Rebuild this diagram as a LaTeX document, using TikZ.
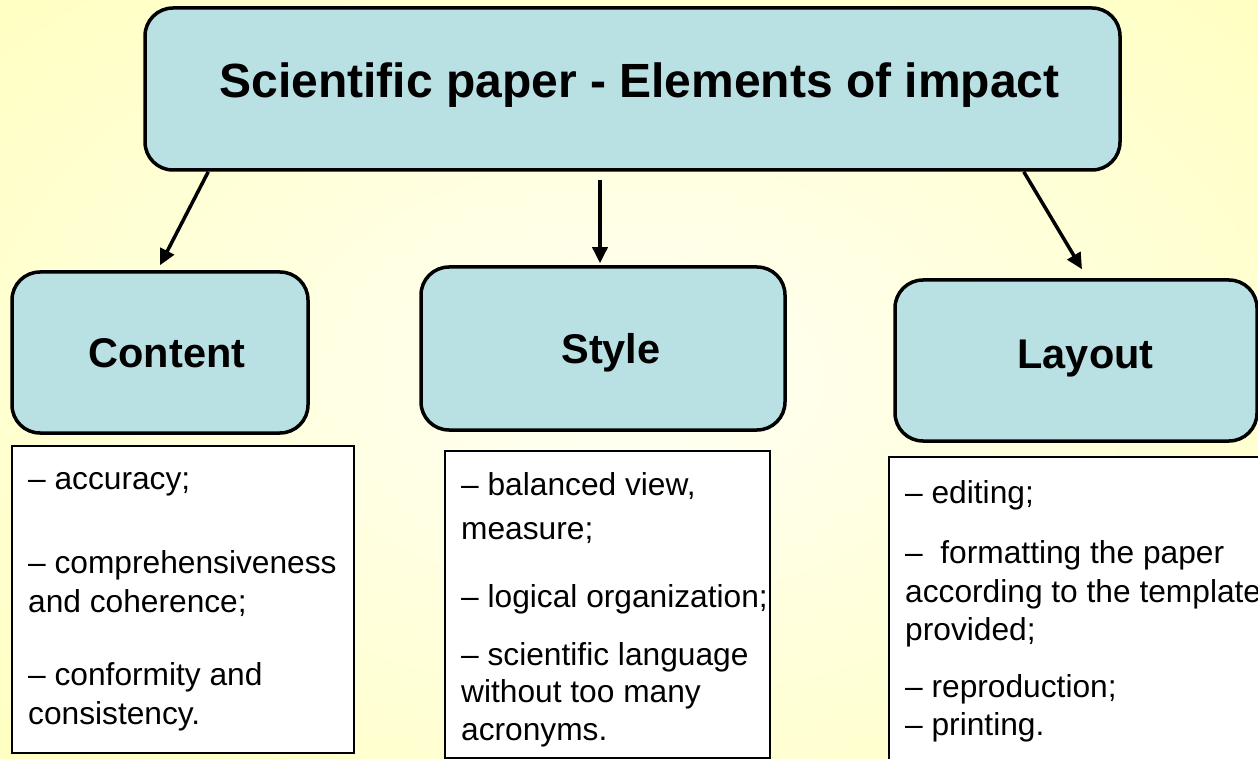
\documentclass[tikz,border=0pt]{standalone}
\usepackage{fontspec}
\setmainfont{Liberation Sans}
\usetikzlibrary{arrows.meta,calc}
\definecolor{boxfill}{RGB}{185,224,227}
\definecolor{bgouter}{RGB}{255,255,196}
\definecolor{bginner}{RGB}{255,255,245}
\tikzset{
  headbox/.style={draw=black, line width=3.5pt, fill=boxfill, rounded corners=28pt, inner sep=0pt},
  listbox/.style={draw=black, line width=1.3pt, fill=white, inner sep=0pt},
  arr/.style={line width=3.5pt, -{Triangle[length=16pt,width=15pt]}},
  titletext/.style={font=\bfseries\fontsize{48}{56}\selectfont, anchor=base, inner sep=0pt},
  headtext/.style={font=\bfseries\fontsize{41.5}{48}\selectfont, anchor=base, inner sep=0pt},
  itemtext/.style={font=\fontsize{31.7}{38}\selectfont, anchor=base west, inner sep=0pt}
}
\begin{document}
\begin{tikzpicture}[x=1pt,y=-1pt]
\clip (0,0) rectangle (1258,759);
\shade[inner color=bginner, outer color=bgouter] (-200,-150) rectangle (1458,909);

% head boxes
\node[headbox, minimum width=975pt, minimum height=162pt] (title) at (632.5,89) {};
\node[titletext] (titlet) at (639.5,98) {Scientific paper - Elements of impact};

\node[headbox, minimum width=296pt, minimum height=161pt] (content) at (160,352.5) {};
\node[headtext] (contentt) at (167,367) {Content};

\node[headbox, minimum width=364pt, minimum height=163pt] (style) at (603,348.5) {};
\node[headtext] (stylet) at (611,363) {Style};

\node[headbox, minimum width=362pt, minimum height=161pt] (layout) at (1076,360.5) {};
\node[headtext] (layoutt) at (1085.5,368) {Layout};

% arrows
\draw[arr] ([xshift=65pt]title.south west) -- ([yshift=5pt]content.north);
\draw[arr] ([shift={(-32.5pt,-8pt)}]title.south) -- ([shift={(-3pt,2pt)}]style.north);
\draw[arr] ([xshift=-98pt]title.south east) -- ([shift={(6pt,9pt)}]layout.north);

% list boxes
\node[listbox, minimum width=342pt, minimum height=307pt] (contentlist) at (183,599.5) {};
\node[itemtext] (c1) at (28,489) {– accuracy;};
\node[itemtext] (c2) at (28,573) {– comprehensiveness};
\node[itemtext] (c3) at (28,612) {and coherence;};
\node[itemtext] (c4) at (28,685) {– conformity and};
\node[itemtext] (c5) at (28,724) {consistency.};

\node[listbox, minimum width=325pt, minimum height=307pt] (stylelist) at (607.5,604.5) {};
\node[itemtext] (s1) at (461,495) {– balanced view,};
\node[itemtext] (s2) at (461,539) {measure;};
\node[itemtext] (s3) at (461,607) {– logical organization;};
\node[itemtext] (s4) at (461,665) {– scientific language};
\node[itemtext] (s5) at (461,702) {without too many};
\node[itemtext] (s6) at (461,740) {acronyms.};

\node[listbox, minimum width=400pt, minimum height=330pt] (layoutlist) at (1089,622) {};
\node[itemtext] (l1) at (905,503) {– editing;};
\node[itemtext] (l2) at (905,563) {–\ \ formatting the paper};
\node[itemtext] (l3) at (905,602) {according to the template};
\node[itemtext] (l4) at (905,640) {provided;};
\node[itemtext] (l5) at (905,697) {– reproduction;};
\node[itemtext] (l6) at (905,735) {– printing.};
\end{tikzpicture}
\end{document}
